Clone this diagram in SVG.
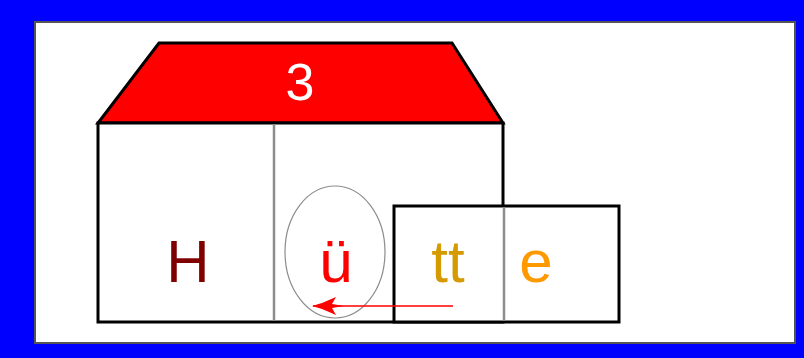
<svg xmlns="http://www.w3.org/2000/svg" width="804" height="358" viewBox="0 0 804 358">
<defs>
<style>
.frame{fill:#ffffff;stroke:#555555;stroke-width:2}
.wall{fill:#ffffff;stroke:#000000;stroke-width:3}
.roof{fill:#ff0000;stroke:#000000;stroke-width:3;stroke-linejoin:miter}
.div{stroke:#8c8c8c;stroke-width:2.5}
.lt{font-family:"Liberation Sans",Arial,sans-serif;font-size:60px;text-anchor:middle}
.ring{fill:none;stroke:#8c8c8c;stroke-width:1.2}
.arr{stroke:#ff0000;stroke-width:1.6;fill:none}
</style>
<marker id="ah" markerUnits="userSpaceOnUse" markerWidth="40" markerHeight="24" refX="33" refY="12" orient="auto" viewBox="0 0 40 24">
<path d="M34,12 L24,9 L10,3 L14,10 L2,12 L14,14 L10,21 L24,15 Z" fill="#ff0000"/>
</marker>
</defs>
<rect x="0" y="0" width="804" height="358" fill="#0000ff"/>
<rect class="frame" x="35" y="22" width="760" height="321"/>
<g id="roof">
<polygon class="roof" points="159,43 452,43 503,123 98,123"/>
<text x="300" y="100" font-family="'Liberation Sans',Arial,sans-serif" font-size="52" fill="#ffffff" text-anchor="middle">3</text>
</g>
<g id="house">
<rect class="wall" x="98" y="123" width="405" height="199"/>
<line class="div" x1="274" y1="124" x2="274" y2="321"/>
</g>
<g id="annex">
<rect class="wall" x="394" y="206" width="225" height="116"/>
<line class="div" x1="504" y1="207" x2="504" y2="321"/>
</g>
<g id="letter-H"><text class="lt" x="188" y="282" fill="#800000">H</text></g>
<g id="letter-u">
<ellipse class="ring" cx="335" cy="252" rx="50" ry="66"/>
<text class="lt" x="336" y="282" fill="#ff0000">ü</text>
</g>
<g id="letter-tt"><text class="lt" x="448" y="282" fill="#d49a00">tt</text></g>
<g id="letter-e"><text class="lt" x="536" y="282" fill="#ff9900">e</text></g>
<g id="connectors">
<line class="arr" x1="453" y1="306" x2="313" y2="306" marker-end="url(#ah)"/>
</g>
</svg>
